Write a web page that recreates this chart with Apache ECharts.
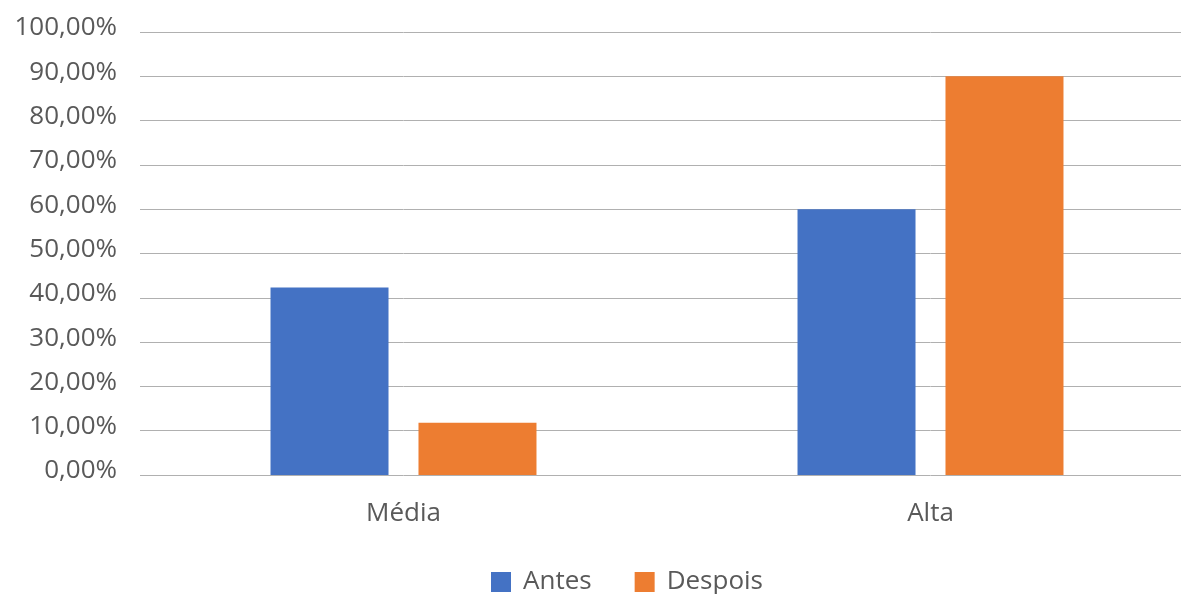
<!DOCTYPE html>
<html>
<head>
<meta charset="utf-8">
<script src="https://cdn.jsdelivr.net/npm/echarts@6/dist/echarts.min.js"></script>
<style>html,body{margin:0;padding:0;background:#fff;overflow:hidden;width:1181px;height:594px}#c{width:1200px;height:594px}</style>
</head>
<body>
<div id="c"></div>
<script>
var categories = ['Média', 'Alta'];
var antes = [42.3, 60.0];
var despois = [11.8, 90.0];
var seriesNames = ['Antes', 'Despois'];

var chart = echarts.init(document.getElementById('c'));
var font = '"Open Sans", "Noto Sans", sans-serif';
chart.setOption({
  animation: false,
  textStyle: { fontFamily: font },
  grid: { left: 140, top: 32, width: 1054, height: 443, containLabel: false },
  legend: {
    top: 569, left: 491, padding: 0,
    itemWidth: 20, itemHeight: 20, itemGap: 43,
    icon: 'rect',
    textStyle: { fontSize: 26, color: '#595959', fontFamily: font, padding: [0, 0, 0, 7] },
    data: seriesNames
  },
  xAxis: {
    type: 'category', data: categories,
    axisLine: { show: false }, axisTick: { show: false },
    axisLabel: { fontSize: 26, color: '#595959', margin: 26, fontFamily: font }
  },
  yAxis: {
    type: 'value', min: 0, max: 100, interval: 10,
    axisLine: { show: false }, axisTick: { show: false },
    axisLabel: {
      color: '#595959', margin: 23,
      formatter: function (v) { return '{t|' + v.toFixed(2).replace('.', ',') + '%}'; },
      rich: { t: { fontSize: 26, color: '#595959', fontFamily: font, padding: [0, 0, 8, 0] } }
    },
    splitLine: { lineStyle: { color: '#b0b0b0', width: 1 } }
  },
  series: [
    { name: seriesNames[0], type: 'bar', data: antes, barWidth: 118, barGap: '25.4%', itemStyle: { color: '#4472C4' } },
    { name: seriesNames[1], type: 'bar', data: despois, barWidth: 118, barGap: '25.4%', itemStyle: { color: '#ED7D31' } }
  ]
});
</script>
</body>
</html>
